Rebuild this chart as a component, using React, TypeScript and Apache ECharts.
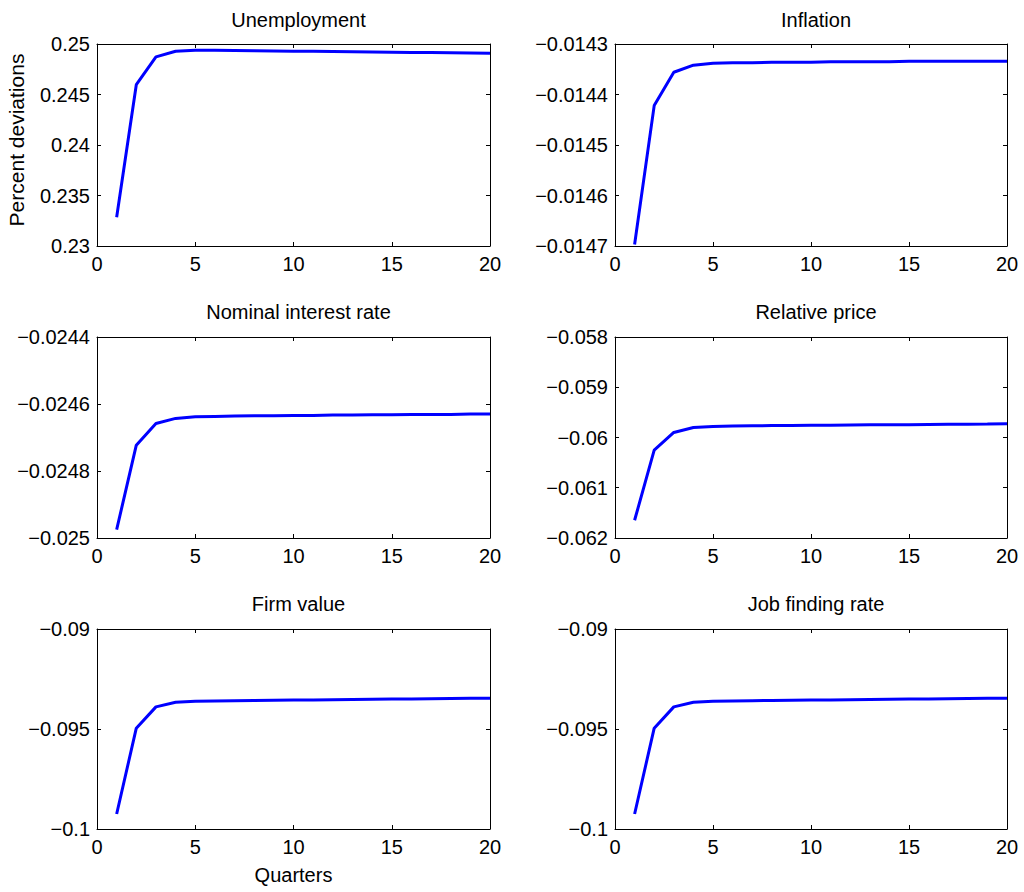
import React, { useEffect, useRef } from "react";
import * as echarts from "echarts";

const quarters = [1, 2, 3, 4, 5, 6, 7, 8, 9, 10, 11, 12, 13, 14, 15, 16, 17, 18, 19, 20];

const panelTitles = [
  "Unemployment",
  "Inflation",
  "Nominal interest rate",
  "Relative price",
  "Firm value",
  "Job finding rate",
];

const unemployment = [
  0.23285, 0.24597, 0.24872, 0.24928, 0.24938, 0.24937, 0.24935, 0.24933, 0.24931, 0.24929,
  0.24927, 0.24925, 0.24923, 0.24921, 0.24919, 0.24917, 0.24915, 0.24913, 0.24911, 0.24909,
];
const inflation = [
  -0.014697, -0.014422, -0.014356, -0.014342, -0.014338, -0.014337, -0.014337, -0.014336, -0.014336, -0.014336,
  -0.014335, -0.014335, -0.014335, -0.014335, -0.014334, -0.014334, -0.014334, -0.014334, -0.014334, -0.014334,
];
const nominalRate = [
  -0.024975, -0.024723, -0.024658, -0.024643, -0.024638, -0.024637, -0.024636, -0.024635, -0.024635, -0.024634,
  -0.024634, -0.024633, -0.024633, -0.024632, -0.024632, -0.024631, -0.024631, -0.024631, -0.02463, -0.02463,
];
const relativePrice = [
  -0.061647, -0.060252, -0.0599, -0.0598, -0.05978, -0.059772, -0.059767, -0.059763, -0.05976, -0.059757,
  -0.059754, -0.059751, -0.059748, -0.059746, -0.059744, -0.059741, -0.059738, -0.059735, -0.059732, -0.059728,
];
const firmValue = [
  -0.09925, -0.094958, -0.093894, -0.09366, -0.09361, -0.093595, -0.093585, -0.093575, -0.093565, -0.093555,
  -0.093545, -0.093535, -0.093525, -0.093515, -0.093505, -0.093495, -0.093485, -0.093475, -0.093468, -0.09346,
];
const jobFindingRate = [
  -0.09925, -0.094958, -0.093894, -0.09366, -0.09361, -0.093595, -0.093585, -0.093575, -0.093565, -0.093555,
  -0.093545, -0.093535, -0.093525, -0.093515, -0.093505, -0.093495, -0.093485, -0.093475, -0.093468, -0.09346,
];

const seriesValues = [unemployment, inflation, nominalRate, relativePrice, firmValue, jobFindingRate];

// y axis ranges [min, max, interval]
const yMins = [0.23, -0.0147, -0.025, -0.062, -0.1, -0.1];
const yMaxs = [0.25, -0.0143, -0.0244, -0.058, -0.09, -0.09];
const yIntervals = [0.005, 0.0001, 0.0002, 0.001, 0.005, 0.005];

const xMin = 0;
const xMax = 20;
const xInterval = 5;

const yAxisName = "Percent deviations";
const xAxisName = "Quarters";

const FONT = "'Liberation Sans', Arial, Helvetica, sans-serif";

const colLeft = [97, 615];
const colWidth = [393, 392];
const rowTop = [44, 337, 629];
const rowHeight = [202, 201, 200];
const titleTop = [5, 297, 589];

const fmt = (v: number) => {
  let s = String(parseFloat(Number(v).toPrecision(10)));
  if (s.startsWith("-")) s = "\u2212" + s.slice(1);
  return s;
};

export default function App() {
  const ref = useRef<HTMLDivElement>(null);
  useEffect(() => {
    if (!ref.current) return;
    const chart = echarts.init(ref.current, undefined, { renderer: "svg" });

    const grids: any[] = [];
    const xAxes: any[] = [];
    const yAxes: any[] = [];
    const series: any[] = [];
    const titles: any[] = [];

    const lineStyle = { color: "#000", width: 1 };
    const textStyle = { color: "#000", fontSize: 20, fontFamily: FONT };

    panelTitles.forEach((t, i) => {
      const col = i % 2;
      const row = Math.floor(i / 2);
      grids.push({
        left: colLeft[col],
        top: rowTop[row],
        width: colWidth[col],
        height: rowHeight[row],
        containLabel: false,
      });
      titles.push({
        text: t,
        left: colLeft[col] + colWidth[col] / 2,
        top: titleTop[row],
        textAlign: "center",
        textStyle: { ...textStyle, fontWeight: "normal" },
      });
      const xBase = {
        type: "value",
        gridIndex: i,
        min: xMin,
        max: xMax,
        interval: xInterval,
        splitLine: { show: false },
        axisLine: { show: true, onZero: false, lineStyle },
        axisTick: { show: true, inside: true, length: 4, lineStyle },
      };
      xAxes.push({
        ...xBase,
        position: "bottom",
        axisLabel: { show: true, margin: 8, ...textStyle, formatter: fmt },
        ...(i === 4
          ? {
              name: xAxisName,
              nameLocation: "middle",
              nameGap: 36,
              nameTextStyle: { ...textStyle },
            }
          : {}),
      });
      xAxes.push({ ...xBase, position: "top", axisLabel: { show: false } });
      const yBase = {
        type: "value",
        gridIndex: i,
        min: yMins[i],
        max: yMaxs[i],
        interval: yIntervals[i],
        splitLine: { show: false },
        axisLine: { show: true, onZero: false, lineStyle },
        axisTick: { show: true, inside: true, length: 4, lineStyle },
      };
      yAxes.push({
        ...yBase,
        position: "left",
        axisLabel: { show: true, margin: 7, ...textStyle, formatter: fmt },
        ...(i === 0
          ? {
              name: yAxisName,
              nameLocation: "middle",
              nameGap: 70,
              nameRotate: 90,
              nameTextStyle: { ...textStyle, fontSize: 21, padding: [0, 0, 0, 10] },
            }
          : {}),
      });
      yAxes.push({ ...yBase, position: "right", axisLabel: { show: false } });

      series.push({
        type: "line",
        xAxisIndex: 2 * i,
        yAxisIndex: 2 * i,
        data: quarters.map((q, k) => [q, seriesValues[i][k]]),
        showSymbol: false,
        symbol: "none",
        lineStyle: { color: "#0000ff", width: 3 },
        clip: true,
      });
    });

    chart.setOption({
      animation: false,
      backgroundColor: "#ffffff",
      title: titles,
      grid: grids,
      xAxis: xAxes,
      yAxis: yAxes,
      series,
    });
    return () => chart.dispose();
  }, []);

  return (
    <div
      ref={ref}
      style={{ position: "fixed", left: 0, top: 0, width: 1024, height: 892, background: "#fff" }}
    />
  );
}
